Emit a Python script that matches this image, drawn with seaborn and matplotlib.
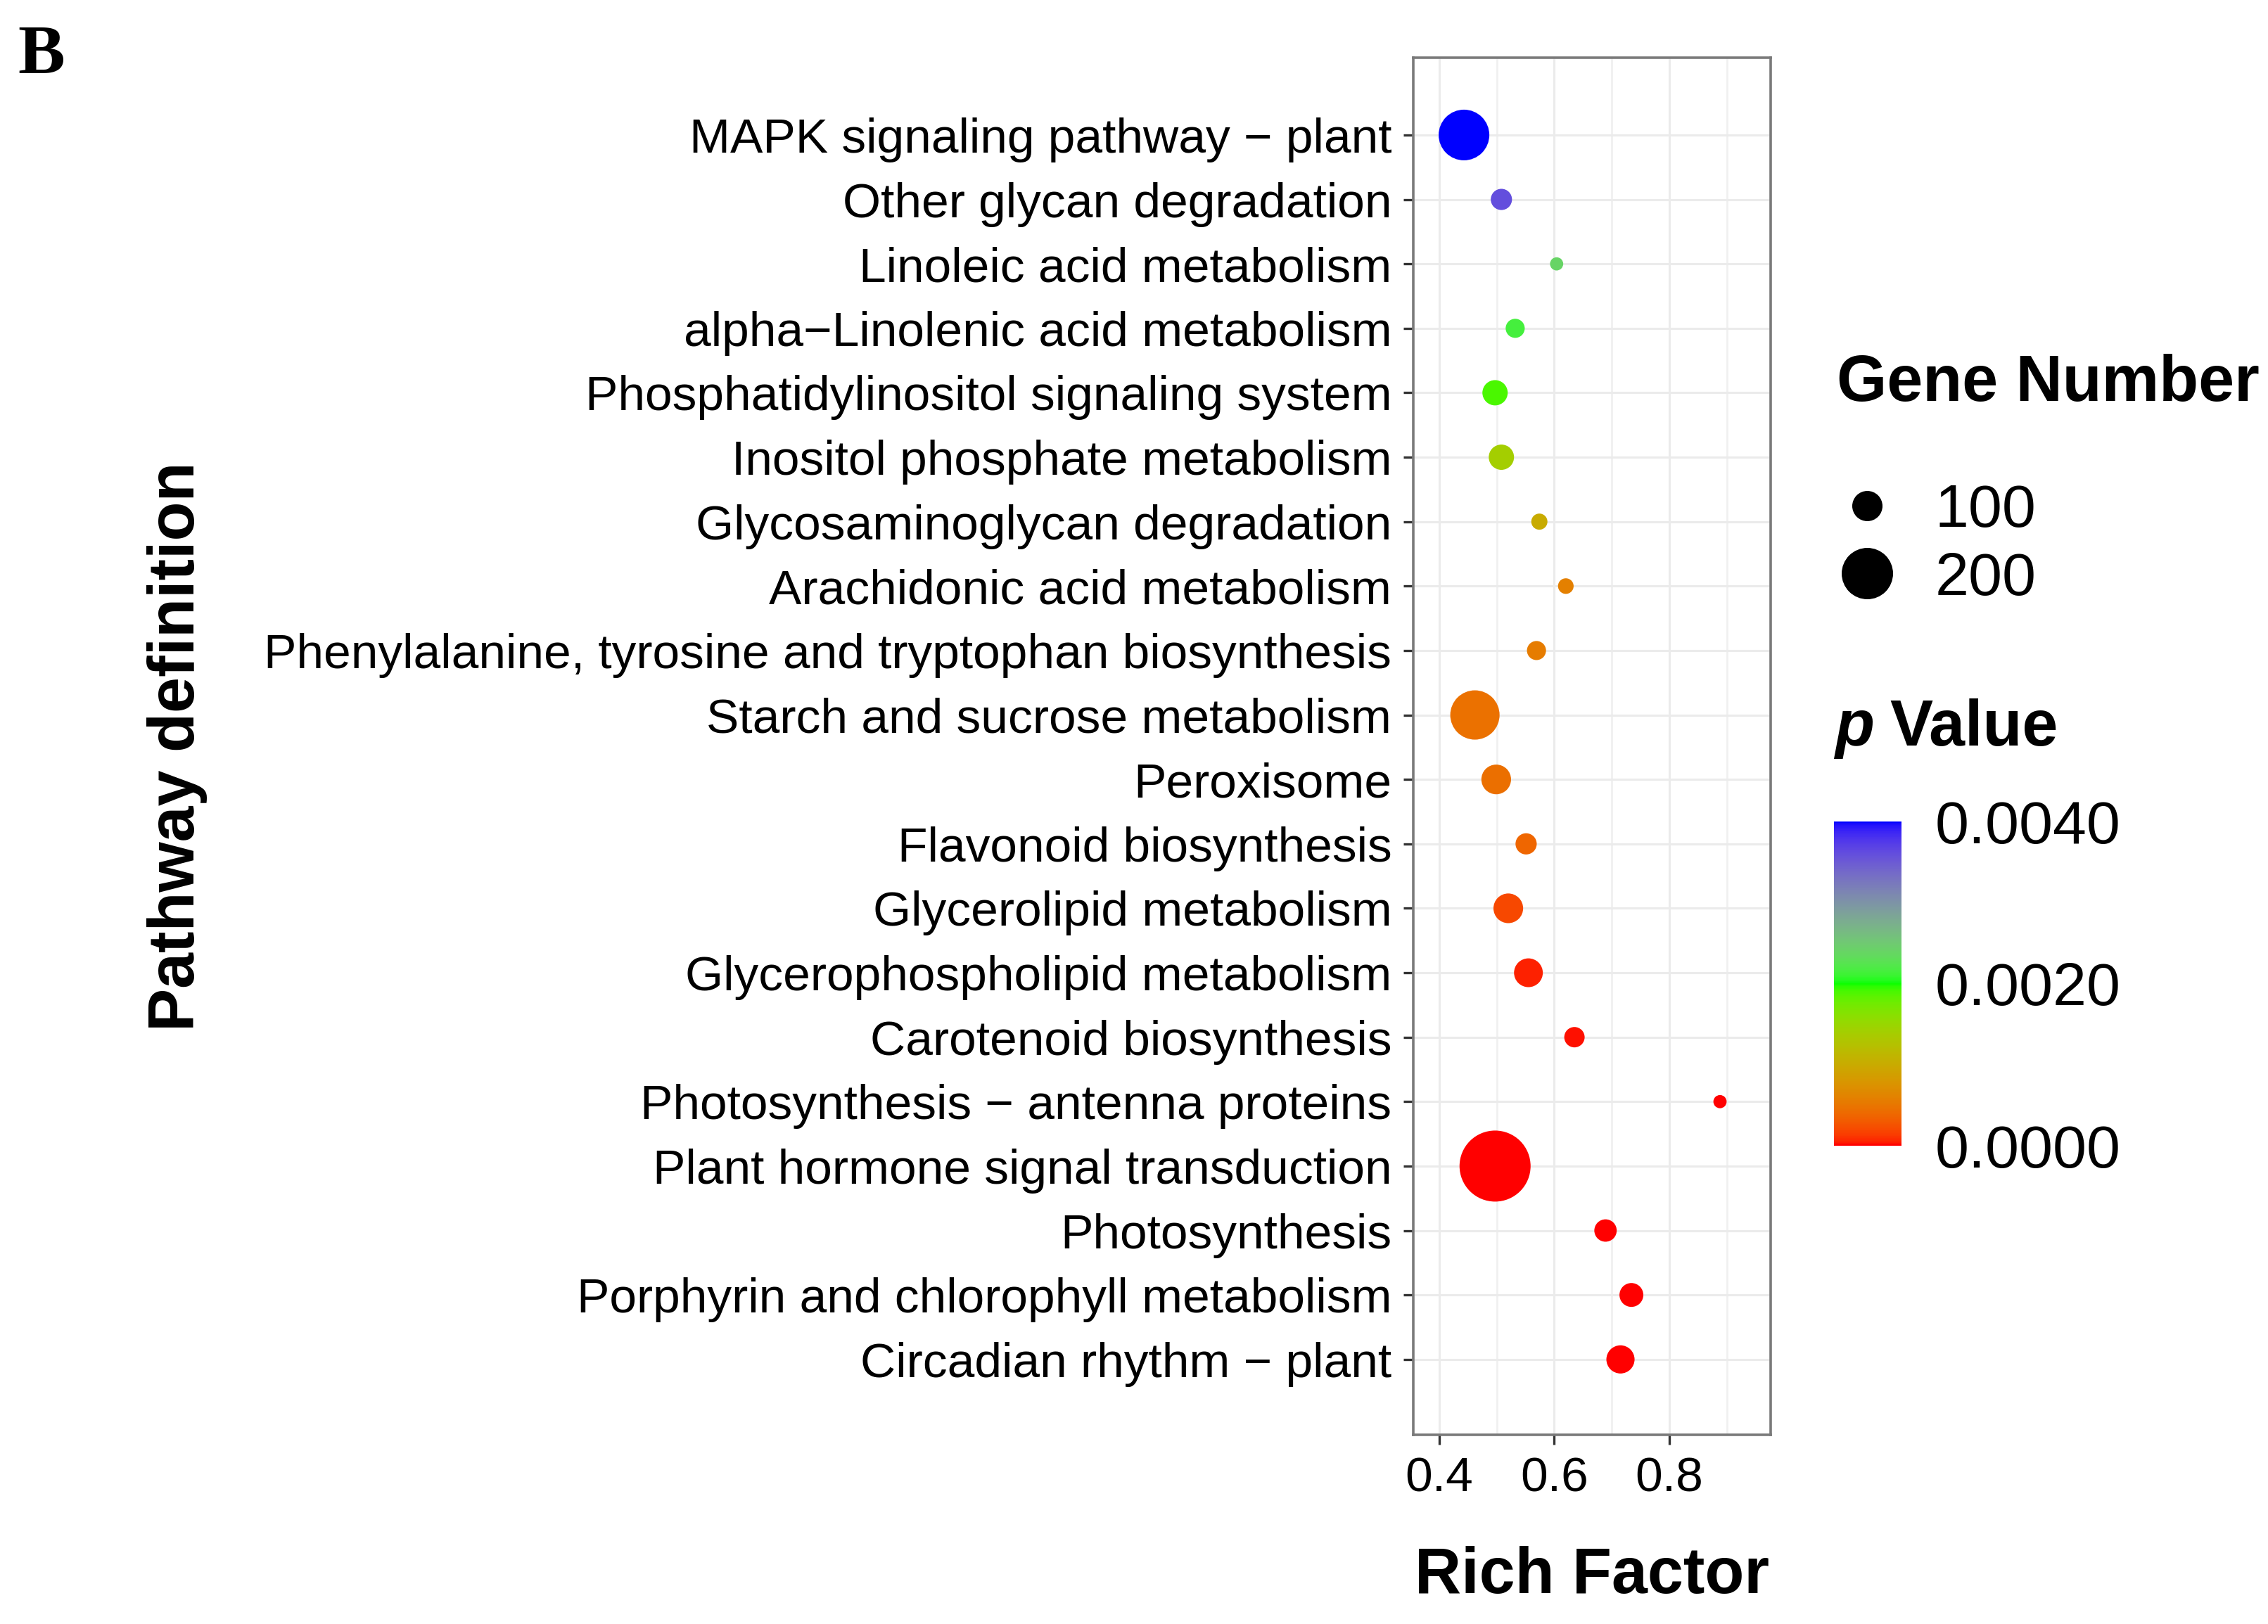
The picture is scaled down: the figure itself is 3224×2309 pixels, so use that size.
import numpy as np
import pandas as pd
import seaborn as sns
import matplotlib.pyplot as plt
from matplotlib.colors import ListedColormap, Normalize
from matplotlib.cm import ScalarMappable
from matplotlib.lines import Line2D

# KEGG enrichment data
pathways = [
    "MAPK signaling pathway \u2212 plant",
    "Other glycan degradation",
    "Linoleic acid metabolism",
    "alpha\u2212Linolenic acid metabolism",
    "Phosphatidylinositol signaling system",
    "Inositol phosphate metabolism",
    "Glycosaminoglycan degradation",
    "Arachidonic acid metabolism",
    "Phenylalanine, tyrosine and tryptophan biosynthesis",
    "Starch and sucrose metabolism",
    "Peroxisome",
    "Flavonoid biosynthesis",
    "Glycerolipid metabolism",
    "Glycerophospholipid metabolism",
    "Carotenoid biosynthesis",
    "Photosynthesis \u2212 antenna proteins",
    "Plant hormone signal transduction",
    "Photosynthesis",
    "Porphyrin and chlorophyll metabolism",
    "Circadian rhythm \u2212 plant",
]
rich_factor = [0.443, 0.508, 0.604, 0.532, 0.497, 0.508, 0.574, 0.620, 0.569, 0.462,
               0.499, 0.551, 0.520, 0.555, 0.635, 0.888, 0.497, 0.689, 0.734, 0.715]
gene_number = [196, 73, 57, 68, 84, 84, 62, 61, 68, 188,
               98, 73, 98, 95, 71, 57, 340, 76, 80, 93]
p_value = [0.00400, 0.00360, 0.00240, 0.00215, 0.00190, 0.00140, 0.00100, 0.00058, 0.00055, 0.00046,
           0.00045, 0.00038, 0.00020, 0.00005, 0.00003, 0.00001, 0.000005, 0.000002, 0.000001, 0.0]

size_ticks = [100, 200]
p_ticks = [0.0, 0.002, 0.004]

df = pd.DataFrame({"pathway": pathways, "rich": rich_factor,
                   "genes": gene_number, "p": p_value})

DPI = 200


# marker area (pt^2) for a gene count
def area(n):
    return (34.8 * n - 1631) / (DPI / 72) ** 2


# red -> green -> blue gradient interpolated in CIELAB (like ggplot)
M = np.array([[0.4124, 0.3576, 0.1805], [0.2126, 0.7152, 0.0722], [0.0193, 0.1192, 0.9505]])
WHITE = np.array([0.95047, 1.0, 1.08883])


def rgb2lab(c):
    c = np.asarray(c, float)
    lin = np.where(c > 0.04045, ((c + 0.055) / 1.055) ** 2.4, c / 12.92)
    xyz = lin @ M.T / WHITE
    d = 6 / 29
    f = np.where(xyz > d ** 3, np.cbrt(xyz), xyz / (3 * d * d) + 4 / 29)
    return np.stack([116 * f[..., 1] - 16, 500 * (f[..., 0] - f[..., 1]), 200 * (f[..., 1] - f[..., 2])], -1)


def lab2rgb(lab):
    fy = (lab[..., 0] + 16) / 116
    f = np.stack([fy + lab[..., 1] / 500, fy, fy - lab[..., 2] / 200], -1)
    d = 6 / 29
    xyz = np.where(f > d, f ** 3, 3 * d * d * (f - 4 / 29)) * WHITE
    lin = np.clip(xyz @ np.linalg.inv(M).T, 0, 1)
    return np.where(lin > 0.0031308, 1.055 * lin ** (1 / 2.4) - 0.055, 12.92 * lin)


anchors = rgb2lab(np.array([[1, 0, 0], [0, 1, 0], [0, 0, 1]]))
t = np.linspace(0, 1, 256)
lab = np.stack([np.interp(t, [0, 0.5, 1], anchors[:, k]) for k in range(3)], -1)
cmap = ListedColormap(np.clip(lab2rgb(lab), 0, 1))

plt.rcParams["font.family"] = ["Liberation Sans", "DejaVu Sans"]

fig = plt.figure(figsize=(3224 / DPI, 2309 / DPI), dpi=DPI)
ax = fig.add_axes([0.6231, 0.1165, 0.1576, 0.8480])

sns.scatterplot(data=df, x="rich", y="pathway", size="genes", hue="p",
                sizes=(area(50), area(350)), size_norm=(50, 350),
                palette=cmap, hue_norm=(0, 0.004), linewidth=0,
                legend=False, ax=ax, zorder=3)

ax.set_xlim(0.3547, 0.976)
ax.set_ylim(len(pathways) - 1 + 1.17, -1.2)
ax.set_xticks([0.4, 0.6, 0.8])
ax.set_xticks([0.5, 0.7, 0.9], minor=True)
ax.set_facecolor("white")
ax.grid(True, which="major", color="#ebebeb", linewidth=1.1, zorder=0)
ax.grid(True, which="minor", axis="x", color="#f0f0f0", linewidth=1.0, zorder=0)
ax.set_axisbelow(True)
for s in ax.spines.values():
    s.set_color("#7a7a7a")
    s.set_linewidth(1.3)
ax.tick_params(axis="both", which="major", length=5, width=1.2, color="#333333",
               labelsize=25, labelcolor="black")
ax.tick_params(axis="y", pad=6)
ax.tick_params(axis="x", pad=6)
ax.tick_params(which="minor", length=0)

ax.set_xlabel("Rich Factor", fontsize=33, fontweight="bold", labelpad=23)
ax.set_ylabel("Pathway definition", fontsize=33, fontweight="bold", labelpad=29)

# size legend
handles = [Line2D([], [], marker="o", ls="", color="black", markeredgewidth=0,
                  markersize=np.sqrt(area(v))) for v in size_ticks]
fig.text(0.8099, 0.7531, "Gene Number", fontsize=33, fontweight="bold", va="baseline")
fig.legend(handles, [str(v) for v in size_ticks], loc="upper left",
           bbox_to_anchor=(0.8099, 0.7024), frameon=False, fontsize=31,
           borderpad=0, borderaxespad=0, labelspacing=0.19,
           handlelength=1.0, handletextpad=0.62)

# colour legend
tp = fig.text(0.8090, 0.5409, "p", fontsize=33, fontweight="bold", style="italic", va="baseline")
ax.annotate("Value", xy=(1, 0), xycoords=tp, xytext=(8, 0), textcoords="offset points",
            fontsize=33, fontweight="bold", va="bottom", annotation_clip=False)
cax = fig.add_axes([0.8086, 0.2945, 0.0298, 0.1997])
cb = fig.colorbar(ScalarMappable(norm=Normalize(0, 0.004), cmap=cmap), cax=cax)
cb.outline.set_visible(False)
cb.set_ticks(p_ticks)
cb.set_ticklabels([f"{v:.4f}" for v in p_ticks])
cb.ax.tick_params(length=0, labelsize=31, pad=17)

# panel tag
fig.text(0.0078, 0.9554, "B", fontsize=36, fontweight="bold",
         family=["Liberation Serif", "DejaVu Serif"], va="baseline")

fig.savefig("out.png", dpi=DPI, facecolor="white")
